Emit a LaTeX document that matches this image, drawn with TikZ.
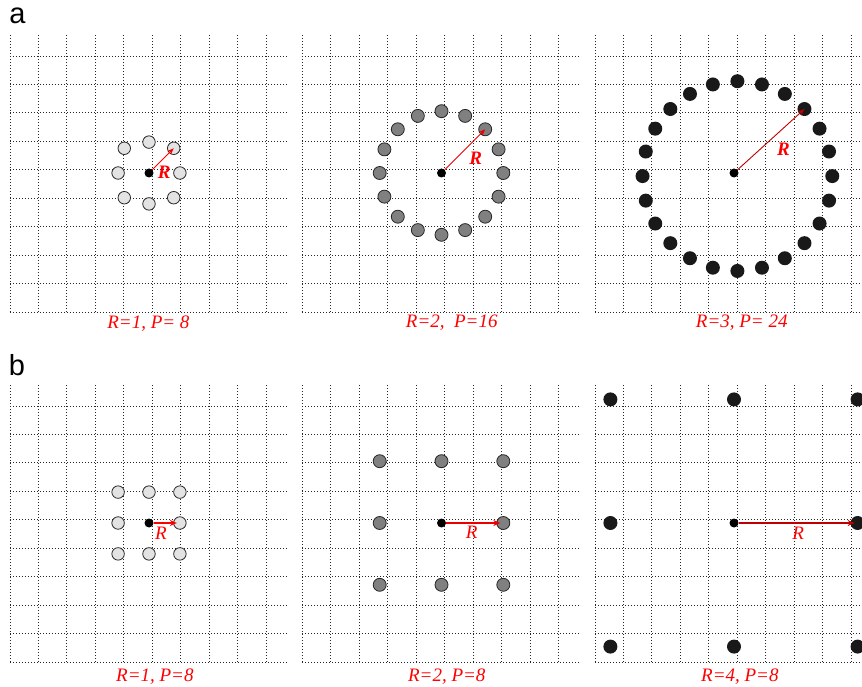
\documentclass[tikz,border=0pt]{standalone}
\usepackage{fontspec}
\setmainfont{Liberation Serif}
\newfontfamily\panelfont{Liberation Sans}
\usetikzlibrary{arrows.meta}
\colorlet{deepred}{red!75!black}
\tikzset{
  cellgrid/.style={line width=0.9pt, dash pattern=on 1pt off 2pt, black!85},
  ctr/.style={circle, fill=black, inner sep=0pt, minimum size=9pt},
  lightpt/.style={circle, draw=black!85, fill=black!11, line width=0.8pt, inner sep=0pt, minimum size=12.5pt},
  midpt/.style={circle, draw=black!85, fill=black!50, line width=0.8pt, inner sep=0pt, minimum size=13pt},
  darkpt/.style={circle, fill=black!90, inner sep=0pt, minimum size=14pt},
  radarrow/.style={-{Stealth[length=6.5pt,width=5pt]}, line width=0.9pt},
  sqarrow/.style={-{Stealth[length=7pt,width=6pt]}, line width=1.4pt, shorten >=3pt},
  radlabel/.style={text=red, font=\fontsize{19}{19}\selectfont\bfseries\itshape, inner sep=0pt},
  sqlabel/.style={text=red, font=\fontsize{19}{19}\selectfont\itshape, inner sep=0pt},
  caption/.style={text=red, font=\fontsize{19}{19}\selectfont\itshape, inner sep=0pt},
  panel/.style={font=\panelfont\fontsize{29}{29}\selectfont, inner sep=0pt},
}
\begin{document}
\begin{tikzpicture}[x=1pt,y=1pt]
\useasboundingbox (0,0) rectangle (862,686);
\node[panel] (la) at (17.5,670.5) {a};
\node[panel] (lb) at (17,320.5) {b};
\begin{scope}[shift={(149,513)}, x=30.9pt, y=30.9pt]
  \draw[cellgrid, shift={(-4.5,-4.5)}] (0,0) grid (9,9);
  \foreach \px/\py [count=\i] in {1/0,.8/.8,0/1,-.8/.8,-1/0,-.8/-.8,0/-1,.8/-.8}
    \node[lightpt] (pa1-\i) at (\px,\py) {};
  \node[ctr] (ca1) at (0,0) {};
  \draw[radarrow, red] (ca1) -- (pa1-2.center);
  \node[radlabel] (ra1) at (0.49,0.03) {R};
  \node[caption] (ta1) at (-0.02,-4.89) {R=1, P= 8};
\end{scope}
\begin{scope}[shift={(441.5,513)}, x=30.9pt, y=30.9pt]
  \draw[cellgrid, shift={(-4.5,-4.5)}] (0,0) grid (9,9);
  \foreach \i in {1,...,16}
    \node[midpt] (pa2-\i) at ({(\i-1)*22.5}:2) {};
  \node[ctr] (ca2) at (0,0) {};
  \draw[radarrow, red!92!black] (ca2) -- (pa2-3.center);
  \node[radlabel] (ra2) at (1.11,0.48) {R};
  \node[caption] (ta2) at (0.33,-4.85) {R=2,\ \ P=16};
\end{scope}
\begin{scope}[shift={(734,513)}, x=30.9pt, y=30.9pt]
  \draw[cellgrid, shift={(-4.5,-4.5)}] (0,0) grid (9,9);
  \foreach \i in {1,...,24}
    \node[darkpt] (pa3-\i) at ([shift={({(\i-1)*15}:3.07)}]0.11,-0.1) {};
  \node[ctr] (ca3) at (0,0) {};
  \draw[radarrow, deepred] (ca3) -- (pa3-4.center);
  \node[radlabel] (ra3) at (1.6,0.78) {R};
  \node[caption] (ta3) at (0.25,-4.85) {R=3, P= 24};
\end{scope}
\begin{scope}[shift={(149,163)}, x=30.9pt, y=30.9pt]
  \draw[cellgrid, shift={(-4.5,-4.5)}] (0,0) grid (9,9);
  \foreach \px/\py [count=\i] in {-1/1,0/1,1/1,-1/0,1/0,-1/-1,0/-1,1/-1}
    \node[lightpt] (pb1-\i) at (\px,\py) {};
  \node[ctr] (cb1) at (0,0) {};
  \draw[sqarrow, red] (cb1) -- (pb1-5.center);
  \node[sqlabel] (rb1) at (0.39,-0.33) {R};
  \node[caption] (tb1) at (0.19,-4.98) {R=1, P=8};
\end{scope}
\begin{scope}[shift={(441.5,163)}, x=30.9pt, y=30.9pt]
  \draw[cellgrid, shift={(-4.5,-4.5)}] (0,0) grid (9,9);
  \foreach \px/\py [count=\i] in {-2/2,0/2,2/2,-2/0,2/0,-2/-2,0/-2,2/-2}
    \node[midpt] (pb2-\i) at (\px,\py) {};
  \node[ctr] (cb2) at (0,0) {};
  \draw[sqarrow, red!92!black] (cb2) -- (pb2-5.center);
  \node[sqlabel] (rb2) at (0.98,-0.31) {R};
  \node[caption] (tb2) at (0.17,-4.98) {R=2, P=8};
\end{scope}
\begin{scope}[shift={(734,163)}, x=30.9pt, y=30.9pt]
  \draw[cellgrid, shift={(-4.5,-4.5)}] (0,0) grid (9,9);
  \foreach \px/\py [count=\i] in {-4/4,0/4,4/4,-4/0,4/0,-4/-4,0/-4,4/-4}
    \node[darkpt] (pb3-\i) at (\px,\py) {};
  \node[ctr] (cb3) at (0,0) {};
  \draw[sqarrow, deepred] (cb3) -- (pb3-5.center);
  \node[sqlabel] (rb3) at (2.08,-0.33) {R};
  \node[caption] (tb3) at (0.19,-4.98) {R=4, P=8};
\end{scope}
\end{tikzpicture}
\end{document}
